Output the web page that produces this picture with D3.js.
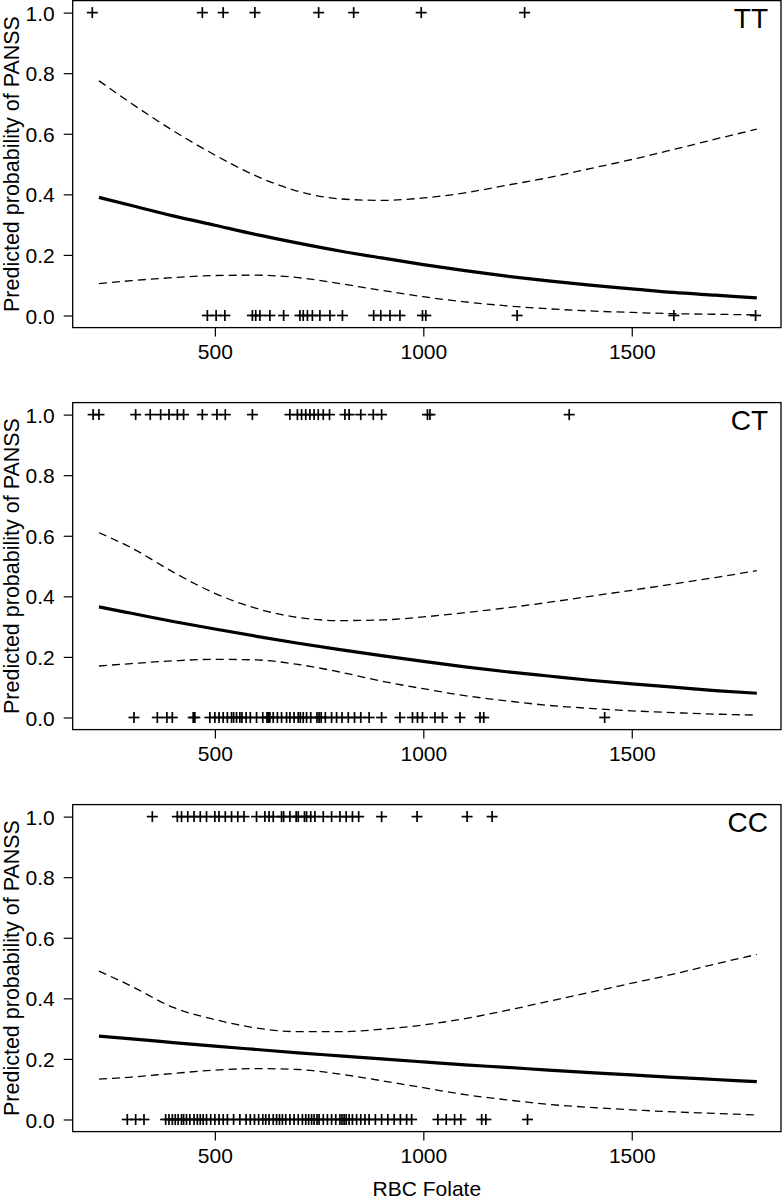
<!DOCTYPE html>
<html><head><meta charset="utf-8">
<script src="https://cdn.jsdelivr.net/npm/d3@7"></script>
<style>body{margin:0;background:#fff}svg{display:block}text{font-family:"Liberation Sans",Arial,sans-serif;fill:#000}</style>
</head><body><svg id="c" width="784" height="1200"></svg>
<script>
// ---- data ----
const panelLabels = ["TT", "CT", "CC"];
const xTicks = [500, 1000, 1500];
const yTicks = [0, 0.2, 0.4, 0.6, 0.8, 1.0];
const curveX = [222, 300, 400, 500, 600, 700, 800, 900, 1000, 1100, 1200, 1300, 1400, 1500, 1600, 1700, 1800];

const fitTT   = [0.390,0.363,0.329,0.298,0.267,0.239,0.213,0.190,0.168,0.148,0.130,0.114,0.100,0.088,0.076,0.067,0.058];
const upperTT = [0.775,0.700,0.610,0.530,0.460,0.410,0.385,0.380,0.388,0.405,0.430,0.455,0.485,0.515,0.548,0.582,0.615];
const lowerTT = [0.105,0.115,0.125,0.132,0.133,0.125,0.105,0.083,0.062,0.045,0.032,0.022,0.015,0.010,0.006,0.004,0.002];

const fitCT   = [0.365,0.344,0.317,0.292,0.268,0.245,0.224,0.204,0.185,0.167,0.151,0.137,0.123,0.111,0.100,0.089,0.080];
const upperCT = [0.610,0.560,0.480,0.410,0.360,0.330,0.320,0.322,0.332,0.346,0.362,0.380,0.400,0.420,0.441,0.462,0.485];
const lowerCT = [0.170,0.178,0.187,0.192,0.190,0.175,0.150,0.120,0.095,0.072,0.055,0.040,0.030,0.022,0.016,0.011,0.008];

const fitCC   = [0.275,0.266,0.254,0.242,0.231,0.220,0.210,0.200,0.190,0.180,0.172,0.163,0.155,0.147,0.139,0.132,0.125];
const upperCC = [0.490,0.440,0.370,0.330,0.302,0.290,0.290,0.298,0.312,0.333,0.360,0.390,0.420,0.450,0.480,0.513,0.545];
const lowerCC = [0.133,0.140,0.152,0.163,0.168,0.165,0.150,0.128,0.105,0.082,0.065,0.050,0.040,0.032,0.025,0.020,0.015];

const onesTT  = [206, 470, 520, 596, 749, 833, 995, 1243];
const zerosTT = [482, 503, 524, 590, 598, 608, 632, 665, 704, 712, 722, 734, 752, 776, 806, 881, 898, 920, 944, 998, 1006, 1225, 1601, 1797];

const onesCT  = [208, 222, 310, 345, 370, 390, 410, 425, 470, 505, 525, 590, 680, 698, 708, 718, 728, 738, 748, 760, 775, 812, 822, 850, 880, 900, 1010, 1016, 1350];
const zerosCT = [306, 362, 385, 398, 448, 452, 488, 500, 510, 520, 530, 540, 545, 552, 560, 565, 575, 585, 600, 615, 625, 628, 632, 640, 650, 660, 672, 680, 690, 700, 705, 712, 720, 730, 745, 750, 755, 765, 780, 792, 805, 820, 835, 850, 870, 900, 944, 974, 986, 998, 1028, 1046, 1088, 1136, 1145, 1435];

const onesCC  = [350, 410, 420, 435, 450, 465, 480, 500, 510, 525, 540, 555, 570, 600, 620, 630, 640, 660, 665, 680, 695, 700, 715, 720, 730, 740, 760, 780, 800, 815, 830, 845, 900, 985, 1105, 1165];
const zerosCC = [290, 310, 330, 382, 390, 398, 405, 412, 420, 425, 432, 440, 450, 458, 465, 472, 480, 490, 500, 510, 520, 530, 545, 560, 575, 585, 595, 605, 615, 622, 630, 640, 648, 655, 662, 670, 680, 690, 700, 710, 718, 725, 732, 738, 745, 750, 760, 770, 780, 790, 800, 805, 810, 815, 822, 830, 840, 850, 860, 870, 885, 900, 915, 930, 945, 960, 972, 1035, 1055, 1075, 1090, 1140, 1150, 1250];

const panels = [
  {label: panelLabels[0], fit: fitTT, upper: upperTT, lower: lowerTT, ones: onesTT, zeros: zerosTT},
  {label: panelLabels[1], fit: fitCT, upper: upperCT, lower: lowerCT, ones: onesCT, zeros: zerosCT},
  {label: panelLabels[2], fit: fitCC, upper: upperCC, lower: lowerCC, ones: onesCC, zeros: zerosCC}
];

// ---- drawing ----
const svg = d3.select("#c");
const left = 72.7, right = 781, period = 402;
const x = d3.scaleLinear().domain([159, 1858]).range([left, right]);
const FONT = "Liberation Sans, Arial, sans-serif";

panels.forEach((p, k) => {
  const off = k * period;
  const g = svg.append("g").attr("transform", `translate(0,${off})`);
  const y = d3.scaleLinear().domain([-0.04, 1.04]).range([327.6, 0.5]);

  const ya = g.append("g").attr("transform", `translate(${left},0)`)
    .call(d3.axisLeft(y).tickValues(yTicks).tickFormat(d3.format(".1f")).tickSize(9).tickPadding(9));
  ya.select(".domain").remove();
  ya.selectAll("line").attr("stroke", "#000").attr("stroke-width", 1.2);
  ya.selectAll("text").attr("font-size", 21).attr("font-family", FONT).attr("dy", "0.36em");

  const xa = g.append("g").attr("transform", `translate(0,327.6)`)
    .call(d3.axisBottom(x).tickValues(xTicks).tickFormat(d3.format("d")).tickSize(9).tickPadding(7));
  xa.select(".domain").remove();
  xa.selectAll("line").attr("stroke", "#000").attr("stroke-width", 1.2);
  xa.selectAll("text").attr("font-size", 21).attr("font-family", FONT);

  g.append("rect").attr("x", left).attr("y", 0.6).attr("width", right - left).attr("height", 327)
    .attr("fill", "none").attr("stroke", "#000").attr("stroke-width", 1.3);

  const line = d3.line().x((d, i) => x(curveX[i])).y(d => y(d)).curve(d3.curveMonotoneX);
  [p.upper, p.lower].forEach(arr => {
    g.append("path").attr("d", line(arr)).attr("fill", "none").attr("stroke", "#000")
      .attr("stroke-width", 1.3).attr("stroke-dasharray", "8,5");
  });
  g.append("path").attr("d", line(p.fit)).attr("fill", "none").attr("stroke", "#000").attr("stroke-width", 3.2);

  const plus = (vals, yv) => {
    const pg = g.append("g").attr("stroke", "#000").attr("stroke-width", 1.7);
    vals.forEach(v => {
      const cx = x(v), cy = y(yv);
      pg.append("line").attr("x1", cx - 5.5).attr("x2", cx + 5.5).attr("y1", cy).attr("y2", cy);
      pg.append("line").attr("x1", cx).attr("x2", cx).attr("y1", cy - 5.5).attr("y2", cy + 5.5);
    });
  };
  plus(p.ones, 1);
  plus(p.zeros, 0);

  g.append("text").attr("x", 768).attr("y", 28).attr("text-anchor", "end").attr("font-size", 28).text(p.label);

  g.append("text").attr("transform", `translate(19,${y(0.5)}) rotate(-90)`).attr("text-anchor", "middle")
    .attr("font-size", 21.5).text("Predicted probability of PANSS");
});

svg.append("text").attr("x", (left + right) / 2).attr("y", 1196).attr("text-anchor", "middle").attr("font-size", 21).text("RBC Folate");
</script></body></html>
